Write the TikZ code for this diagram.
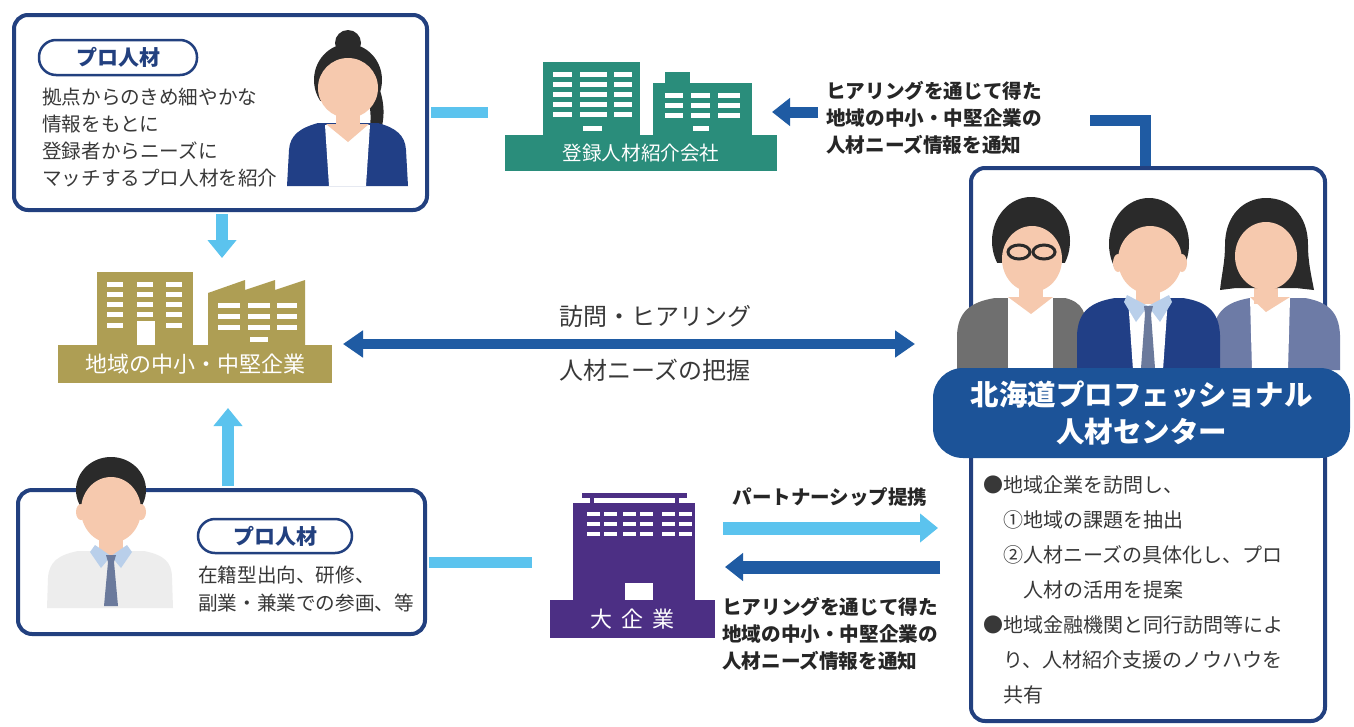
\documentclass[tikz,border=0pt]{standalone}
\usepackage{fontspec}
\newfontfamily\jp{Noto Sans CJK JP}
\usetikzlibrary{arrows.meta}

\definecolor{navy}{HTML}{22407F}
\definecolor{skyline}{HTML}{5BC3EE}
\definecolor{flowblue}{HTML}{1F5BA3}
\definecolor{bannerblue}{HTML}{1C5398}
\definecolor{bldteal}{HTML}{2A8D7B}
\definecolor{bldolive}{HTML}{AE9E54}
\definecolor{bldpurple}{HTML}{4C2F84}
\definecolor{inktext}{HTML}{383838}
\definecolor{inkbold}{HTML}{262626}
\definecolor{skin}{HTML}{F6C9AE}
\definecolor{hair}{HTML}{2A2A2A}
\definecolor{suitnavy}{HTML}{213F86}
\definecolor{jacketgray}{HTML}{6F6F6F}
\definecolor{jacketslate}{HTML}{6D7BA6}
\definecolor{collarblue}{HTML}{B9CFEA}
\definecolor{tiegray}{HTML}{6B7A9C}
\definecolor{shirtgray}{HTML}{EDEDED}

\tikzset{
  panel/.style={draw=navy, line width=4pt, rounded corners=14pt, fill=white, inner sep=0pt},
  pill/.style={draw=navy, line width=2.5pt, rounded corners=17pt, fill=white, inner sep=0pt,
    font=\jp\bfseries\fontsize{21}{24}\selectfont, text=navy},
  bodytext/.style={font=\jp\fontsize{19.6}{27}\selectfont, text=inktext, align=left,
    inner sep=0pt, anchor=north west},
  notetext/.style={font=\jp\bfseries\fontsize{19.6}{27}\selectfont, text=inkbold, align=left,
    inner sep=0pt, anchor=north west},
  plate/.style={inner sep=0pt, text=white},
  window/.style={fill=white},
  skyline link/.style={draw=skyline, line width=11pt},
  skyline arrow/.style={draw=skyline, line width=12pt, -{Triangle[width=28pt,length=18pt]}},
  flow arrow/.style={draw=flowblue, line width=11pt, -{Triangle[width=27pt,length=18pt]}},
  flow both/.style={draw=flowblue, line width=10pt,
    {Triangle[width=26pt,length=20pt]}-{Triangle[width=26pt,length=20pt]}},
}

\begin{document}
\begin{tikzpicture}[x=1pt,y=-1pt]
\useasboundingbox (0,0) rectangle (1354,726);
\fill[white] (0,0) rectangle (1354,726);

% ---------- panels ----------
\node[panel, minimum width=413pt, minimum height=195pt] (tlbox) at (220.5,112.5) {};
\node[panel, minimum width=407pt, minimum height=144pt] (blbox) at (221.5,562) {};
\node[panel, minimum width=354pt, minimum height=553pt] (rbox) at (1148,444.5) {};

% ---------- top-left panel ----------
\node[pill, minimum width=158pt, minimum height=35pt] (pilltop) at (118,57.5) {プロ人材};
\node[bodytext] (toptext) at (42,88) {拠点からのきめ細やかな\\情報をもとに\\登録者からニーズに\\マッチするプロ人材を紹介};

% woman with a bun
\fill[hair] (348,43) circle (13);
\fill[hair] (371,72) .. controls (386,95) and (386,118) .. (379,136) -- (369,134)
  .. controls (373,112) and (369,95) .. (360,80) -- cycle;
\fill[suitnavy] (287,186) -- (289,150) .. controls (290,135) and (300,128) .. (318,123)
  -- (378,123) .. controls (396,128) and (405,135) .. (406,150) -- (408,186) -- cycle;
\fill[white] (325,125) -- (370,125) -- (366,186) -- (329,186) -- cycle;
\fill[skin] (336,100) rectangle (360,126);
\fill[skin] (326,124) -- (348,142) -- (369,124) -- cycle;
\begin{scope}
  \clip (300,30) rectangle (400,100);
  \fill[hair] (348,80) ellipse (34 and 36);
\end{scope}
\fill[skin] (348,88) ellipse (30 and 30);

% ---------- bottom-left panel ----------
\node[pill, minimum width=154pt, minimum height=34pt] (pillbot) at (275,536) {プロ人材};
\node[bodytext, font=\jp\fontsize{19.6}{28}\selectfont] (bottext) at (198,566) {在籍型出向、研修、\\副業・兼業での参画、等};

% man with a tie
\fill[shirtgray] (47,608) -- (48,578) .. controls (49,562) and (58,555) .. (78,551)
  -- (144,551) .. controls (164,555) and (172,562) .. (172,578) -- (173,608) -- cycle;
\fill[skin] (99,528) rectangle (123,556);
\fill[collarblue] (95,545) -- (111,556) -- (101,568) -- (90,552) -- cycle;
\fill[collarblue] (127,545) -- (111,556) -- (121,568) -- (132,552) -- cycle;
\fill[tiegray] (106,555) -- (116,555) -- (114,562) -- (118,606) -- (104,606) -- (108,562) -- cycle;
\begin{scope}
  \clip (60,440) rectangle (160,515);
  \fill[hair] (111,490) ellipse (35 and 33);
\end{scope}
\fill[skin] (81,512) ellipse (5 and 8);
\fill[skin] (141,512) ellipse (5 and 8);
\fill[skin] (111,510) ellipse (30 and 33);

% ---------- registered recruitment agency (teal) ----------
\fill[bldteal] (543,62) rectangle (640,137);
\fill[bldteal] (653,83) rectangle (752,137);
\fill[bldteal] (665,72) rectangle (690,84);
\foreach \y in {72,82,92,102,112} {
  \fill[window] (553,\y) rectangle ++(19,5);
  \fill[window] (580,\y) rectangle ++(27,5);
  \fill[window] (614,\y) rectangle ++(18,5);
}
\fill[window] (583,126) rectangle ++(19,5);
\foreach \y in {93,103,113} {
  \fill[window] (665,\y) rectangle ++(18,5);
  \fill[window] (691,\y) rectangle ++(19,5);
  \fill[window] (718,\y) rectangle ++(22,5);
}
\fill[window] (693,126) rectangle ++(16,5);
\node[plate, fill=bldteal, minimum width=272pt, minimum height=36pt,
  font=\jp\fontsize{19.6}{22}\selectfont] (agency) at (641,153) {登録人材紹介会社};

% ---------- regional SMEs (olive) ----------
\fill[bldolive] (97,272) rectangle (193,347);
\foreach \y in {282,292,302,312} {
  \foreach \x in {107,137,166} { \fill[window] (\x,\y) rectangle ++(16,5); }
}
\fill[window] (107,323) rectangle ++(16,5);
\fill[window] (166,323) rectangle ++(16,5);
\fill[window] (137,321) rectangle (155,346);
\fill[bldolive] (208,347) -- (208,293) -- (245,280) -- (245,290) -- (275,280) -- (275,290)
  -- (305,280) -- (305,347) -- cycle;
\foreach \y in {303,314,325} {
  \fill[window] (218,\y) rectangle ++(22,5);
  \fill[window] (248,\y) rectangle ++(22,5);
  \fill[window] (277,\y) rectangle ++(20,5);
}
\fill[window] (250,337) rectangle ++(18,5);
\node[plate, fill=bldolive, minimum width=274pt, minimum height=38pt,
  font=\jp\fontsize{22}{24}\selectfont] (sme) at (195,364) {地域の中小・中堅企業};

% ---------- large company (purple) ----------
\fill[bldpurple] (582,493) rectangle (687,498);
\fill[bldpurple] (590,497) rectangle (594,504);
\fill[bldpurple] (675,497) rectangle (679,504);
\fill[bldpurple] (573,503) rectangle (695,602);
\foreach \y in {512,522,532} {
  \foreach \x in {587,604,623,640,662,679} { \fill[window] (\x,\y) rectangle ++(13,4); }
}
\fill[window] (625,583) rectangle (653,600);
\node[plate, fill=bldpurple, minimum width=165pt, minimum height=38pt,
  font=\jp\fontsize{22}{24}\selectfont] (bigco) at (632.5,619) {大\hspace{9pt}企\hspace{9pt}業};

% ---------- centre panel: people ----------
% left member with glasses
\fill[jacketgray] (957,370) -- (957,335) .. controls (958,312) and (970,302) .. (995,298)
  -- (1065,298) .. controls (1082,302) and (1087,312) .. (1087,335) -- (1087,370) -- cycle;
\fill[white] (1008,298) rectangle (1053,370);
\fill[skin] (1019,280) rectangle (1043,304);
\fill[skin] (1008,297) -- (1031,314) -- (1053,297) -- cycle;
\begin{scope}
  \clip (980,190) rectangle (1080,262);
  \fill[hair] (1031,241) ellipse (39 and 44);
\end{scope}
\fill[skin] (1032,259) ellipse (30 and 33);
\draw[hair, line width=3pt] (1019,252) ellipse (11 and 7);
\draw[hair, line width=3pt] (1044,252) ellipse (11 and 7);

% right member with a bob
\fill[jacketslate] (1213,370) -- (1213,335) .. controls (1214,312) and (1226,302) .. (1250,298)
  -- (1305,298) .. controls (1328,302) and (1339,312) .. (1340,335) -- (1340,370) -- cycle;
\fill[white] (1250,298) -- (1290,298) -- (1288,370) -- (1252,370) -- cycle;
\fill[skin] (1254,280) rectangle (1278,304);
\fill[skin] (1250,297) -- (1266,312) -- (1290,297) -- cycle;
\fill[hair] (1220,290) .. controls (1222,272) and (1225,262) .. (1225,245)
  .. controls (1225,215) and (1244,198) .. (1266,198)
  .. controls (1290,198) and (1308,215) .. (1308,245)
  .. controls (1308,262) and (1311,274) .. (1314,290) -- (1296,288) -- (1236,288) -- cycle;
\fill[skin] (1266,256) ellipse (31 and 34);

% middle member in a suit
\fill[suitnavy] (1077,370) -- (1077,335) .. controls (1078,312) and (1090,302) .. (1115,298)
  -- (1183,298) .. controls (1208,302) and (1219,312) .. (1220,335) -- (1220,370) -- cycle;
\fill[white] (1128,298) -- (1168,298) -- (1163,370) -- (1133,370) -- cycle;
\fill[skin] (1136,280) rectangle (1160,304);
\fill[collarblue] (1127,295) -- (1148,306) -- (1136,322) -- (1124,302) -- cycle;
\fill[collarblue] (1169,295) -- (1148,306) -- (1160,322) -- (1172,302) -- cycle;
\fill[tiegray] (1144,306) -- (1153,306) -- (1151,314) -- (1155,368) -- (1141,368) -- (1145,314) -- cycle;
\begin{scope}
  \clip (1100,190) rectangle (1200,266);
  \fill[hair] (1149,244) ellipse (40 and 46);
\end{scope}
\fill[skin] (1118,263) ellipse (5 and 9);
\fill[skin] (1182,263) ellipse (5 and 9);
\fill[skin] (1150,260) ellipse (32 and 34);

% centre banner
\node[fill=bannerblue, rounded corners=30pt, minimum width=417pt, minimum height=90pt,
  inner sep=0pt, text=white, align=center,
  font=\jp\bfseries\fontsize{28.5}{37}\selectfont] (center) at (1141.5,413)
  {北海道プロフェッショナル\\人材センター};

\node[bodytext, font=\jp\fontsize{20}{35}\selectfont] (tasks) at (983,475)
  {●地域企業を訪問し、\\
   \hspace*{1em}①地域の課題を抽出\\
   \hspace*{1em}②人材ニーズの具体化し、プロ\\
   \hspace*{2em}人材の活用を提案\\
   ●地域金融機関と同行訪問等によ\\
   \hspace*{1em}り、人材紹介支援のノウハウを\\
   \hspace*{1em}共有};

% ---------- connectors ----------
\coordinate (agencylink) at (488,112.5);
\draw[skyline link, shorten <=2pt] (tlbox.east) -- (agencylink);
\coordinate (bigcolink) at (532,562);
\draw[skyline link, shorten <=2pt] (blbox.east) -- (bigcolink);
\coordinate (smetopdown) at (222,258);
\draw[skyline arrow, shorten <=2pt] (tlbox.south -| smetopdown) -- (smetopdown);
\coordinate (smebotup) at (228,408);
\draw[skyline arrow, shorten <=2pt] (blbox.north -| smebotup) -- (smebotup);

\coordinate (toptail) at (818,112);
\coordinate (toptip) at (772,112);
\draw[flow arrow] (toptail) -- (toptip);
\node[notetext] (topnote) at (826,81)
  {ヒアリングを通じて得た\\地域の中小・中堅企業の\\人材ニーズ情報を通知};
\coordinate (bracket) at (1090,120);
\draw[draw=flowblue, line width=11pt] (bracket) -| ([xshift=-3pt]rbox.north);

\coordinate (visitL) at (343,344);
\coordinate (visitR) at (915,344);
\draw[flow both] (visitL) -- (visitR);
\node[font=\jp\fontsize{24}{26}\selectfont, text=inktext] (visit) at (655,316) {訪問・ヒアリング};
\node[font=\jp\fontsize{24}{26}\selectfont, text=inktext] (grasp) at (655,370) {人材ニーズの把握};

\coordinate (partL) at (723,528);
\coordinate (partR) at (938,528);
\draw[skyline arrow, line width=13pt] (partL) -- (partR);
\node[font=\jp\bfseries\fontsize{19.5}{22}\selectfont, text=inkbold] (partner) at (830,497) {パートナーシップ提携};
\coordinate (infoR) at (940,567);
\coordinate (infoL) at (725,567);
\draw[flow arrow, line width=13pt] (infoR) -- (infoL);
\node[notetext] (botnote) at (722,597)
  {ヒアリングを通じて得た\\地域の中小・中堅企業の\\人材ニーズ情報を通知};
\end{tikzpicture}
\end{document}
